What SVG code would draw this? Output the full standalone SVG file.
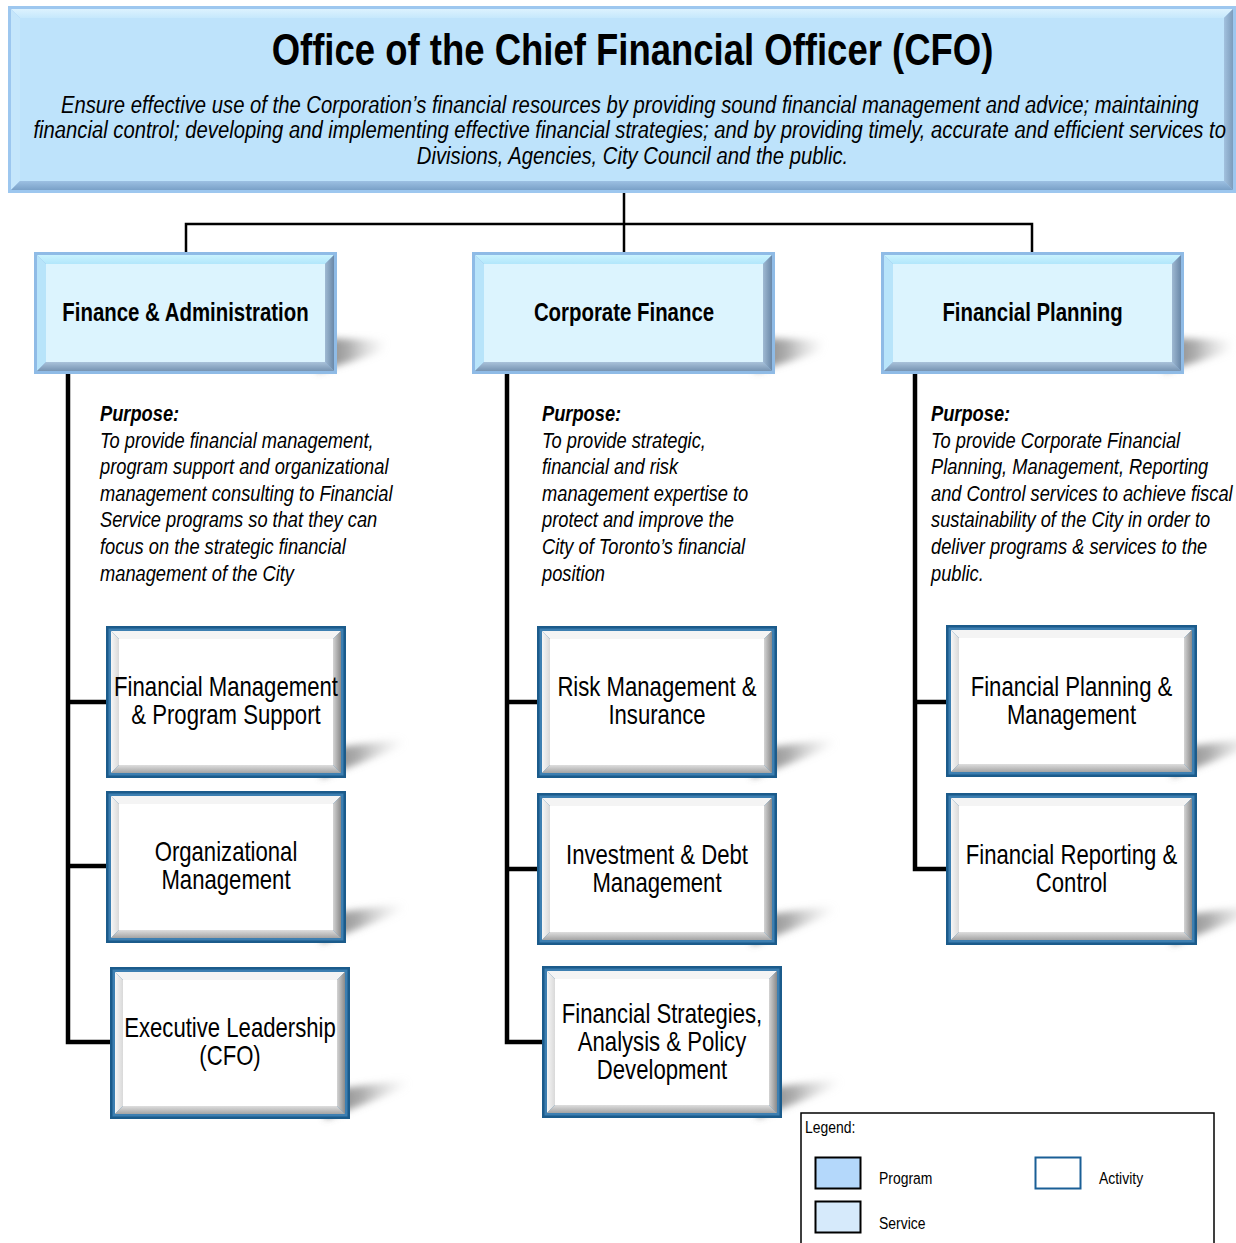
<svg xmlns="http://www.w3.org/2000/svg" xmlns:xlink="http://www.w3.org/1999/xlink" width="1236" height="1243" viewBox="0 0 1236 1243">
  <style>
    .t { font-family: "Liberation Sans", Arial, Helvetica, sans-serif; fill: #000; }
    .title { font-size: 44.5px; font-weight: bold; text-anchor: middle; }
    .sub { font-size: 24.7px; font-style: italic; text-anchor: middle; }
    .svc { font-size: 24.9px; font-weight: bold; text-anchor: middle; }
    .act { font-size: 27px; text-anchor: middle; }
    .pur { font-size: 22.3px; font-style: italic; }
    .purh { font-weight: bold; }
    .leg { font-size: 17px; }
    .conn { stroke: #000; fill: none; stroke-linecap: square; }
    .thin { stroke-width: 2.5; }
    .thick { stroke-width: 4.5; }
  </style>
  <defs>
    <filter id="soft" x="-50%" y="-50%" width="200%" height="200%">
      <feGaussianBlur stdDeviation="3.5"/>
    </filter>
    <linearGradient id="shg" x1="0" y1="0" x2="1" y2="0">
      <stop offset="0" stop-color="#707070" stop-opacity="0.95"/>
      <stop offset="0.45" stop-color="#8c8c8c" stop-opacity="0.7"/>
      <stop offset="1" stop-color="#c8c8c8" stop-opacity="0"/>
    </linearGradient>
    <!-- bevel shades -->
    <linearGradient id="actR" x1="0" y1="0" x2="1" y2="0">
      <stop offset="0" stop-color="#d4d4d4"/>
      <stop offset="1" stop-color="#8a8a8a"/>
    </linearGradient>
    <linearGradient id="actB" x1="0" y1="0" x2="0" y2="1">
      <stop offset="0" stop-color="#dedede"/>
      <stop offset="1" stop-color="#a4a4a4"/>
    </linearGradient>
    <linearGradient id="actL" x1="0" y1="0" x2="1" y2="0">
      <stop offset="0" stop-color="#f6f6f6"/>
      <stop offset="1" stop-color="#d9d9d9"/>
    </linearGradient>
    <linearGradient id="svcT" x1="0" y1="0" x2="0" y2="1">
      <stop offset="0" stop-color="#c9f3fe"/>
      <stop offset="1" stop-color="#b2e6fb"/>
    </linearGradient>
    <linearGradient id="svcR" x1="0" y1="0" x2="1" y2="0">
      <stop offset="0" stop-color="#9fb9d2"/>
      <stop offset="1" stop-color="#6a88a8"/>
    </linearGradient>
    <linearGradient id="svcB" x1="0" y1="0" x2="0" y2="1">
      <stop offset="0" stop-color="#a9c2da"/>
      <stop offset="1" stop-color="#7794b2"/>
    </linearGradient>
    <linearGradient id="topT" x1="0" y1="0" x2="0" y2="1">
      <stop offset="0" stop-color="#dcf2fe"/>
      <stop offset="1" stop-color="#c6e8fc"/>
    </linearGradient>
    <linearGradient id="topB" x1="0" y1="0" x2="0" y2="1">
      <stop offset="0" stop-color="#9cc0e2"/>
      <stop offset="1" stop-color="#7aa1c8"/>
    </linearGradient>
    <linearGradient id="topR" x1="0" y1="0" x2="1" y2="0">
      <stop offset="0" stop-color="#a2c1de"/>
      <stop offset="1" stop-color="#7d9cbc"/>
    </linearGradient>

    <!-- service box 303 x 122 with its cast shadow -->
    <g id="svcBox">
      <path d="M283 86 L353 88 L348 100 L283 120 Z" fill="url(#shg)" filter="url(#soft)"/>
      <rect x="0" y="0" width="303" height="122" fill="#8fbbe6"/>
      <polygon points="3,3 300,3 291,12 12,12" fill="url(#svcT)"/>
      <polygon points="3,3 12,12 12,110 3,119" fill="#b8e4fa"/>
      <polygon points="300,3 300,119 291,110 291,12" fill="url(#svcR)"/>
      <polygon points="3,119 300,119 291,110 12,110" fill="url(#svcB)"/>
      <rect x="12" y="12" width="279" height="98" fill="#dcf4fe"/>
    </g>

    <!-- activity box 240 x 152 with its cast shadow -->
    <g id="actBox">
      <path d="M215 124 L298 112 L298 120 L215 152 Z" fill="url(#shg)" filter="url(#soft)"/>
      <rect x="0" y="0" width="240" height="152" fill="#1b5b8b"/>
      <rect x="2.5" y="2.5" width="235" height="147" fill="#3d7fb1"/>
      <polygon points="5,5 235,5 227,13 13,13" fill="#f4f4f4"/>
      <polygon points="5,5 13,13 13,139 5,147" fill="url(#actL)"/>
      <polygon points="235,5 235,147 227,139 227,13" fill="url(#actR)"/>
      <polygon points="5,147 235,147 227,139 13,139" fill="url(#actB)"/>
      <rect x="13" y="13" width="214" height="126" fill="#ffffff"/>
    </g>

    <!-- wider activity box 251 x 152 -->
    <g id="actBoxW">
      <path d="M226 124 L309 112 L309 120 L226 152 Z" fill="url(#shg)" filter="url(#soft)"/>
      <rect x="0" y="0" width="251" height="152" fill="#1b5b8b"/>
      <rect x="2.5" y="2.5" width="246" height="147" fill="#3d7fb1"/>
      <polygon points="5,5 246,5 238,13 13,13" fill="#f4f4f4"/>
      <polygon points="5,5 13,13 13,139 5,147" fill="url(#actL)"/>
      <polygon points="246,5 246,147 238,139 238,13" fill="url(#actR)"/>
      <polygon points="5,147 246,147 238,139 13,139" fill="url(#actB)"/>
      <rect x="13" y="13" width="225" height="126" fill="#ffffff"/>
    </g>
  </defs>

  <rect width="1236" height="1243" fill="#ffffff"/>

  <!-- connectors -->
  <g id="connectors">
    <path class="conn thin" d="M624 193 V252 M186 224 H1032 M186 224 V252 M1032 224 V252"/>
    <path class="conn thick" d="M68 374 V1042 H108 M68 702 H106 M68 866 H106"/>
    <path class="conn thick" d="M507 374 V1042 H542 M507 702 H537 M507 869 H537"/>
    <path class="conn thick" d="M915 374 V869 H946 M915 702 H946"/>
  </g>

  <!-- Office of the CFO -->
  <g id="cfo">
    <rect x="8" y="6" width="1228" height="187" fill="#9dc7ef"/>
    <polygon points="11,9 1233,9 1224,18 20,18" fill="url(#topT)"/>
    <polygon points="11,9 20,18 20,181 11,190" fill="#c5e6fb"/>
    <polygon points="1233,9 1233,190 1224,181 1224,18" fill="url(#topR)"/>
    <polygon points="11,190 1233,190 1224,181 20,181" fill="url(#topB)"/>
    <rect x="20" y="18" width="1204" height="163" fill="#bee3fb"/>
    <g transform="translate(632.5 0) scale(0.82 1)">
      <text class="t title" x="0" y="65">Office of the Chief Financial Officer (CFO)</text>
      <text class="t sub">
        <tspan x="0" y="113">Ensure effective use of the Corporation’s financial resources by providing sound financial management and advice; maintaining</tspan>
        <tspan x="0" y="138.5">financial control; developing and implementing effective financial strategies; and by providing timely, accurate and efficient services to</tspan>
        <tspan x="0" y="164">Divisions, Agencies, City Council and the public.</tspan>
      </text>
    </g>
  </g>

  <!-- Finance & Administration -->
  <g id="finance-admin">
    <use href="#svcBox" x="34" y="252"/>
    <g transform="translate(185.5 0) scale(0.82 1)">
      <text class="t svc" x="0" y="321">Finance &amp; Administration</text>
    </g>
    <g transform="translate(100 0) scale(0.82 1)">
      <text class="t pur">
        <tspan class="purh" x="0" y="421">Purpose:</tspan>
        <tspan x="0" y="447.6">To provide financial management,</tspan>
        <tspan x="0" y="474.2">program support and organizational</tspan>
        <tspan x="0" y="500.8">management consulting to Financial</tspan>
        <tspan x="0" y="527.4">Service programs so that they can</tspan>
        <tspan x="0" y="554">focus on the strategic financial</tspan>
        <tspan x="0" y="580.6">management of the City</tspan>
      </text>
    </g>
  </g>

  <!-- Corporate Finance -->
  <g id="corporate-finance">
    <use href="#svcBox" x="472" y="252"/>
    <g transform="translate(624 0) scale(0.82 1)">
      <text class="t svc" x="0" y="321">Corporate Finance</text>
    </g>
    <g transform="translate(542 0) scale(0.82 1)">
      <text class="t pur">
        <tspan class="purh" x="0" y="421">Purpose:</tspan>
        <tspan x="0" y="447.6">To provide strategic,</tspan>
        <tspan x="0" y="474.2">financial and risk</tspan>
        <tspan x="0" y="500.8">management expertise to</tspan>
        <tspan x="0" y="527.4">protect and improve the</tspan>
        <tspan x="0" y="554">City of Toronto’s financial</tspan>
        <tspan x="0" y="580.6">position</tspan>
      </text>
    </g>
  </g>

  <!-- Financial Planning -->
  <g id="financial-planning">
    <use href="#svcBox" x="881" y="252"/>
    <g transform="translate(1032.5 0) scale(0.82 1)">
      <text class="t svc" x="0" y="321">Financial Planning</text>
    </g>
    <g transform="translate(931 0) scale(0.82 1)">
      <text class="t pur">
        <tspan class="purh" x="0" y="421">Purpose:</tspan>
        <tspan x="0" y="447.6">To provide Corporate Financial</tspan>
        <tspan x="0" y="474.2">Planning, Management, Reporting</tspan>
        <tspan x="0" y="500.8">and Control services to achieve fiscal</tspan>
        <tspan x="0" y="527.4">sustainability of the City in order to</tspan>
        <tspan x="0" y="554">deliver programs &amp; services to the</tspan>
        <tspan x="0" y="580.6">public.</tspan>
      </text>
    </g>
  </g>

  <!-- activities -->
  <g id="fin-mgmt-program-support">
    <use href="#actBox" x="106" y="626"/>
    <g transform="translate(226 0) scale(0.82 1)">
      <text class="t act"><tspan x="0" y="696">Financial Management</tspan><tspan x="0" y="724">&amp; Program Support</tspan></text>
    </g>
  </g>
  <g id="organizational-management">
    <use href="#actBox" x="106" y="791"/>
    <g transform="translate(226 0) scale(0.82 1)">
      <text class="t act"><tspan x="0" y="861">Organizational</tspan><tspan x="0" y="889">Management</tspan></text>
    </g>
  </g>
  <g id="executive-leadership">
    <use href="#actBox" x="110" y="967"/>
    <g transform="translate(230 0) scale(0.82 1)">
      <text class="t act"><tspan x="0" y="1037">Executive Leadership</tspan><tspan x="0" y="1065">(CFO)</tspan></text>
    </g>
  </g>
  <g id="risk-management">
    <use href="#actBox" x="537" y="626"/>
    <g transform="translate(657 0) scale(0.82 1)">
      <text class="t act"><tspan x="0" y="696">Risk Management &amp;</tspan><tspan x="0" y="724">Insurance</tspan></text>
    </g>
  </g>
  <g id="investment-debt">
    <use href="#actBox" x="537" y="793"/>
    <g transform="translate(657 0) scale(0.82 1)">
      <text class="t act"><tspan x="0" y="864">Investment &amp; Debt</tspan><tspan x="0" y="892">Management</tspan></text>
    </g>
  </g>
  <g id="strategies-analysis-policy">
    <use href="#actBox" x="542" y="966"/>
    <g transform="translate(662 0) scale(0.82 1)">
      <text class="t act"><tspan x="0" y="1023">Financial Strategies,</tspan><tspan x="0" y="1051">Analysis &amp; Policy</tspan><tspan x="0" y="1079">Development</tspan></text>
    </g>
  </g>
  <g id="planning-management">
    <use href="#actBoxW" x="946" y="625"/>
    <g transform="translate(1071.5 0) scale(0.82 1)">
      <text class="t act"><tspan x="0" y="696">Financial Planning &amp;</tspan><tspan x="0" y="724">Management</tspan></text>
    </g>
  </g>
  <g id="reporting-control">
    <use href="#actBoxW" x="946" y="793"/>
    <g transform="translate(1071.5 0) scale(0.82 1)">
      <text class="t act"><tspan x="0" y="864">Financial Reporting &amp;</tspan><tspan x="0" y="892">Control</tspan></text>
    </g>
  </g>

  <!-- legend -->
  <g id="legend">
    <rect x="801" y="1113" width="413" height="140" fill="#ffffff" stroke="#000" stroke-width="1.5"/>
    <g transform="translate(805 0) scale(0.82 1)"><text class="t leg" x="0" y="1133">Legend:</text></g>
    <rect x="815.5" y="1157.5" width="45" height="31" fill="#b4d8fb" stroke="#000" stroke-width="2"/>
    <g transform="translate(879 0) scale(0.82 1)"><text class="t leg" x="0" y="1184">Program</text></g>
    <rect x="1035.5" y="1157.5" width="45" height="31" fill="#ffffff" stroke="#1a5f96" stroke-width="2"/>
    <g transform="translate(1099 0) scale(0.82 1)"><text class="t leg" x="0" y="1184">Activity</text></g>
    <rect x="815.5" y="1201.5" width="45" height="31" fill="#d6eafb" stroke="#000" stroke-width="2"/>
    <g transform="translate(879 0) scale(0.82 1)"><text class="t leg" x="0" y="1229">Service</text></g>
  </g>
</svg>
